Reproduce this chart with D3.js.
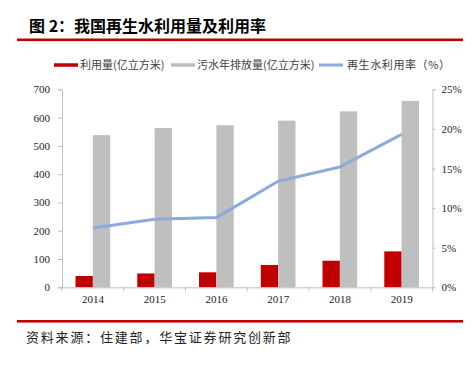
<!DOCTYPE html>
<html><head><meta charset="utf-8">
<script src="https://cdn.jsdelivr.net/npm/d3@7"></script>
<style>body{margin:0;background:#fff}svg{display:block}</style>
</head><body>
<script>
const years = ["2014","2015","2016","2017","2018","2019"];
const reuse = [40, 49, 53, 79, 94, 127];
const discharge = [538, 563, 573, 589, 622, 659];
const rate = [7.5, 8.6, 8.8, 13.4, 15.2, 19.3];
const leftTicks = [0,100,200,300,400,500,600,700];
const rightTicks = [0,5,10,15,20,25];
const seriesNames = ["利用量(亿立方米)","污水年排放量(亿立方米)","再生水利用率（%）"];

const W=474,H=366;
const svg=d3.select("body").append("svg").attr("width",W).attr("height",H);
const cjk='"Noto Sans CJK SC","Noto Sans",sans-serif';
const num='"Liberation Serif","DejaVu Serif",serif';

// title
svg.append("text").attr("x",29).attr("y",32).attr("font-family",cjk).attr("font-weight",700)
  .attr("font-size",16).attr("fill","#000").text("图 2：我国再生水利用量及利用率");
svg.append("rect").attr("x",17).attr("y",38.5).attr("width",446).attr("height",2.6).attr("fill","#C00000");

const x0=62,x1=432.5,yTop=89.3,yBot=287.3;
const x=d3.scaleBand().domain(years).range([x0,x1]).padding(0);
const yL=d3.scaleLinear().domain([0,700]).range([yBot,yTop]);
const yR=d3.scaleLinear().domain([0,25]).range([yBot,yTop]);
const bw=x.bandwidth()*0.281;

// bars
svg.append("g").selectAll("rect").data(years).join("rect")
  .attr("x",(d)=>x(d)+x.bandwidth()/2-bw).attr("width",bw)
  .attr("y",(d,i)=>yL(reuse[i])).attr("height",(d,i)=>yBot-yL(reuse[i])).attr("fill","#C00000");
svg.append("g").selectAll("rect").data(years).join("rect")
  .attr("x",(d)=>x(d)+x.bandwidth()/2).attr("width",bw)
  .attr("y",(d,i)=>yL(discharge[i])).attr("height",(d,i)=>yBot-yL(discharge[i])).attr("fill","#BFBFBF");

// line
const line=d3.line().x((d,i)=>x(years[i])+x.bandwidth()/2).y(d=>yR(d));
svg.append("path").datum(rate).attr("d",line).attr("fill","none")
  .attr("stroke","#8EA9DB").attr("stroke-width",3).attr("stroke-linejoin","round");

// axes
const axisColor="#BFBFBF";
const gl=svg.append("g").attr("transform",`translate(${x0},0)`)
  .call(d3.axisLeft(yL).tickValues(leftTicks).tickSize(4).tickPadding(8).tickFormat(d3.format("d")));
const gr=svg.append("g").attr("transform",`translate(${x1},0)`)
  .call(d3.axisRight(yR).tickValues(rightTicks).tickSize(3).tickPadding(6).tickFormat(d=>d+"%"));
const gb=svg.append("g").attr("transform",`translate(0,${yBot})`)
  .call(d3.axisBottom(x).tickSize(0).tickPadding(8));
[gl,gr,gb].forEach(g=>{
  g.select(".domain").attr("stroke",axisColor);
  g.selectAll(".tick line").attr("stroke",axisColor);
  g.selectAll("text").attr("font-family",num).attr("font-size",11).attr("fill","#222");
});
gb.select(".domain").attr("d",`M${x0},0.5H${x1}`);
// category boundary ticks
svg.append("g").selectAll("line").data(years.concat(["end"])).join("line")
  .attr("x1",(d,i)=>x0+i*x.bandwidth()).attr("x2",(d,i)=>x0+i*x.bandwidth())
  .attr("y1",yBot).attr("y2",yBot+4).attr("stroke",axisColor);

// legend
const lg=svg.append("g").attr("font-family",cjk).attr("font-size",11).attr("fill","#404040");
const items=[{x:54,tx:80,c:"#C00000",h:3.5},{x:171,tx:197,c:"#BFBFBF",h:3.5},{x:319,tx:347,c:"#8EA9DB",h:3}];
items.forEach((it,i)=>{
  lg.append("rect").attr("x",it.x).attr("y",65-it.h/2).attr("width",24).attr("height",it.h).attr("fill",it.c);
  lg.append("text").attr("x",it.tx).attr("y",69).attr("fill","#404040").attr("letter-spacing",i===2?0.6:0).text(seriesNames[i]);
});

// footer
svg.append("rect").attr("x",17).attr("y",320).attr("width",446).attr("height",2.6).attr("fill","#C00000");
svg.append("text").attr("x",26).attr("y",342).attr("font-family",cjk).attr("font-size",13)
  .attr("letter-spacing",1.8).attr("fill","#222").text("资料来源：住建部，华宝证券研究创新部");
</script>
</body></html>
